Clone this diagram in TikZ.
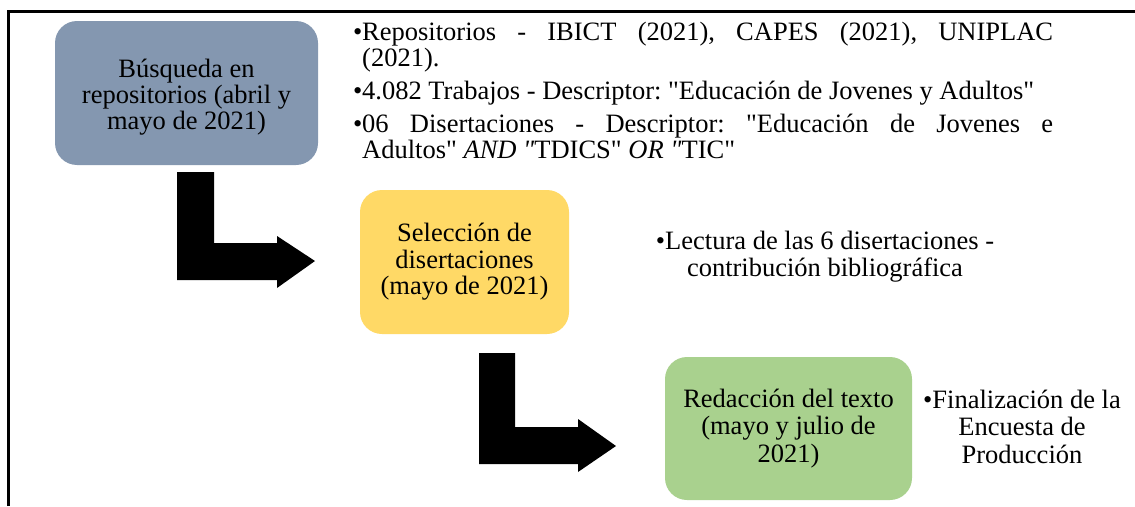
\documentclass[tikz,border=0pt]{standalone}
\usepackage{fontspec}
\setmainfont{Liberation Serif}[Ligatures=TeXOff]
\definecolor{boxblue}{HTML}{8497B0}
\definecolor{boxyellow}{HTML}{FFD966}
\definecolor{boxgreen}{HTML}{A9D18E}
\tikzset{
  stagebox/.style={rounded corners=22pt, inner sep=0pt, align=center, text=black},
  bullettext/.style={inner sep=0pt, text=black},
  bentarrow/.style={fill=black, draw=none},
  frameline/.style={line width=3pt, draw=black}
}
\newcommand{\bfont}[1]{\fontsize{26.5}{#1}\selectfont\frenchspacing}
\begin{document}
\begin{tikzpicture}[x=1pt,y=-1pt]
\useasboundingbox (0,0) rectangle (1135,506);
% frame
\draw[frameline] (8,506) -- (8,11) -- (1135,11);
% stage boxes
\node[stagebox, fill=boxblue, minimum width=263pt, minimum height=144pt, font=\bfont{26}] (b1) at (186.5,93)
  {\rule{0pt}{27pt}Búsqueda en\\repositorios (abril y\\mayo de 2021)};
\node[stagebox, fill=boxyellow, minimum width=209pt, minimum height=144pt, font=\bfont{26.5}] (b2) at (464.5,262)
  {Selección de\\disertaciones\\(mayo de 2021)};
\node[stagebox, fill=boxgreen, minimum width=247pt, minimum height=143pt, font=\bfont{27.5}] (b3) at (788.5,428.5)
  {Redacción del texto\\(mayo y julio de\\2021)};
% bent arrows
\fill[bentarrow] (177,172) -- (214,172) -- (214,243) -- (277,243) -- (277,236) -- (315,261)
  -- (277,288) -- (277,280) -- (177,280) -- cycle;
\fill[bentarrow] (479,353) -- (515,353) -- (515,427) -- (578,427) -- (578,419) -- (616,446)
  -- (578,472) -- (578,464) -- (479,464) -- cycle;
% bullet texts
\node[bullettext, anchor=north west, text width=700pt, align=justify, font=\bfont{26}] (l1) at (353,20) {%
  \tolerance=10000\hyphenpenalty=10000\parskip=7pt\relax
  \hangindent=9pt\hangafter=1\noindent\makebox[9pt][l]{•}\rule{0pt}{20pt}Repositorios - IBICT (2021), CAPES (2021), UNIPLAC\linebreak (2021).\par
  \hangindent=9pt\hangafter=1\noindent\makebox[9pt][l]{•}4.082 Trabajos - Descriptor: "Educación de Jovenes y Adultos"\par
  \hangindent=9pt\hangafter=1\noindent\makebox[9pt][l]{•}06 Disertaciones - Descriptor: "Educación de Jovenes e\linebreak Adultos" \textit{AND "}TDICS" \textit{OR "}TIC"\par};
\node[bullettext, anchor=north, align=center, font=\bfont{27.5}] (l2) at (825,229)
  {\rule{0pt}{20pt}•Lectura de las 6 disertaciones -\\contribución bibliográfica};
\node[bullettext, anchor=north, align=center, font=\bfont{27.5}] (l3) at (1022,388)
  {\rule{0pt}{20pt}•Finalización de la\\Encuesta de\\Producción};
\end{tikzpicture}
\end{document}
